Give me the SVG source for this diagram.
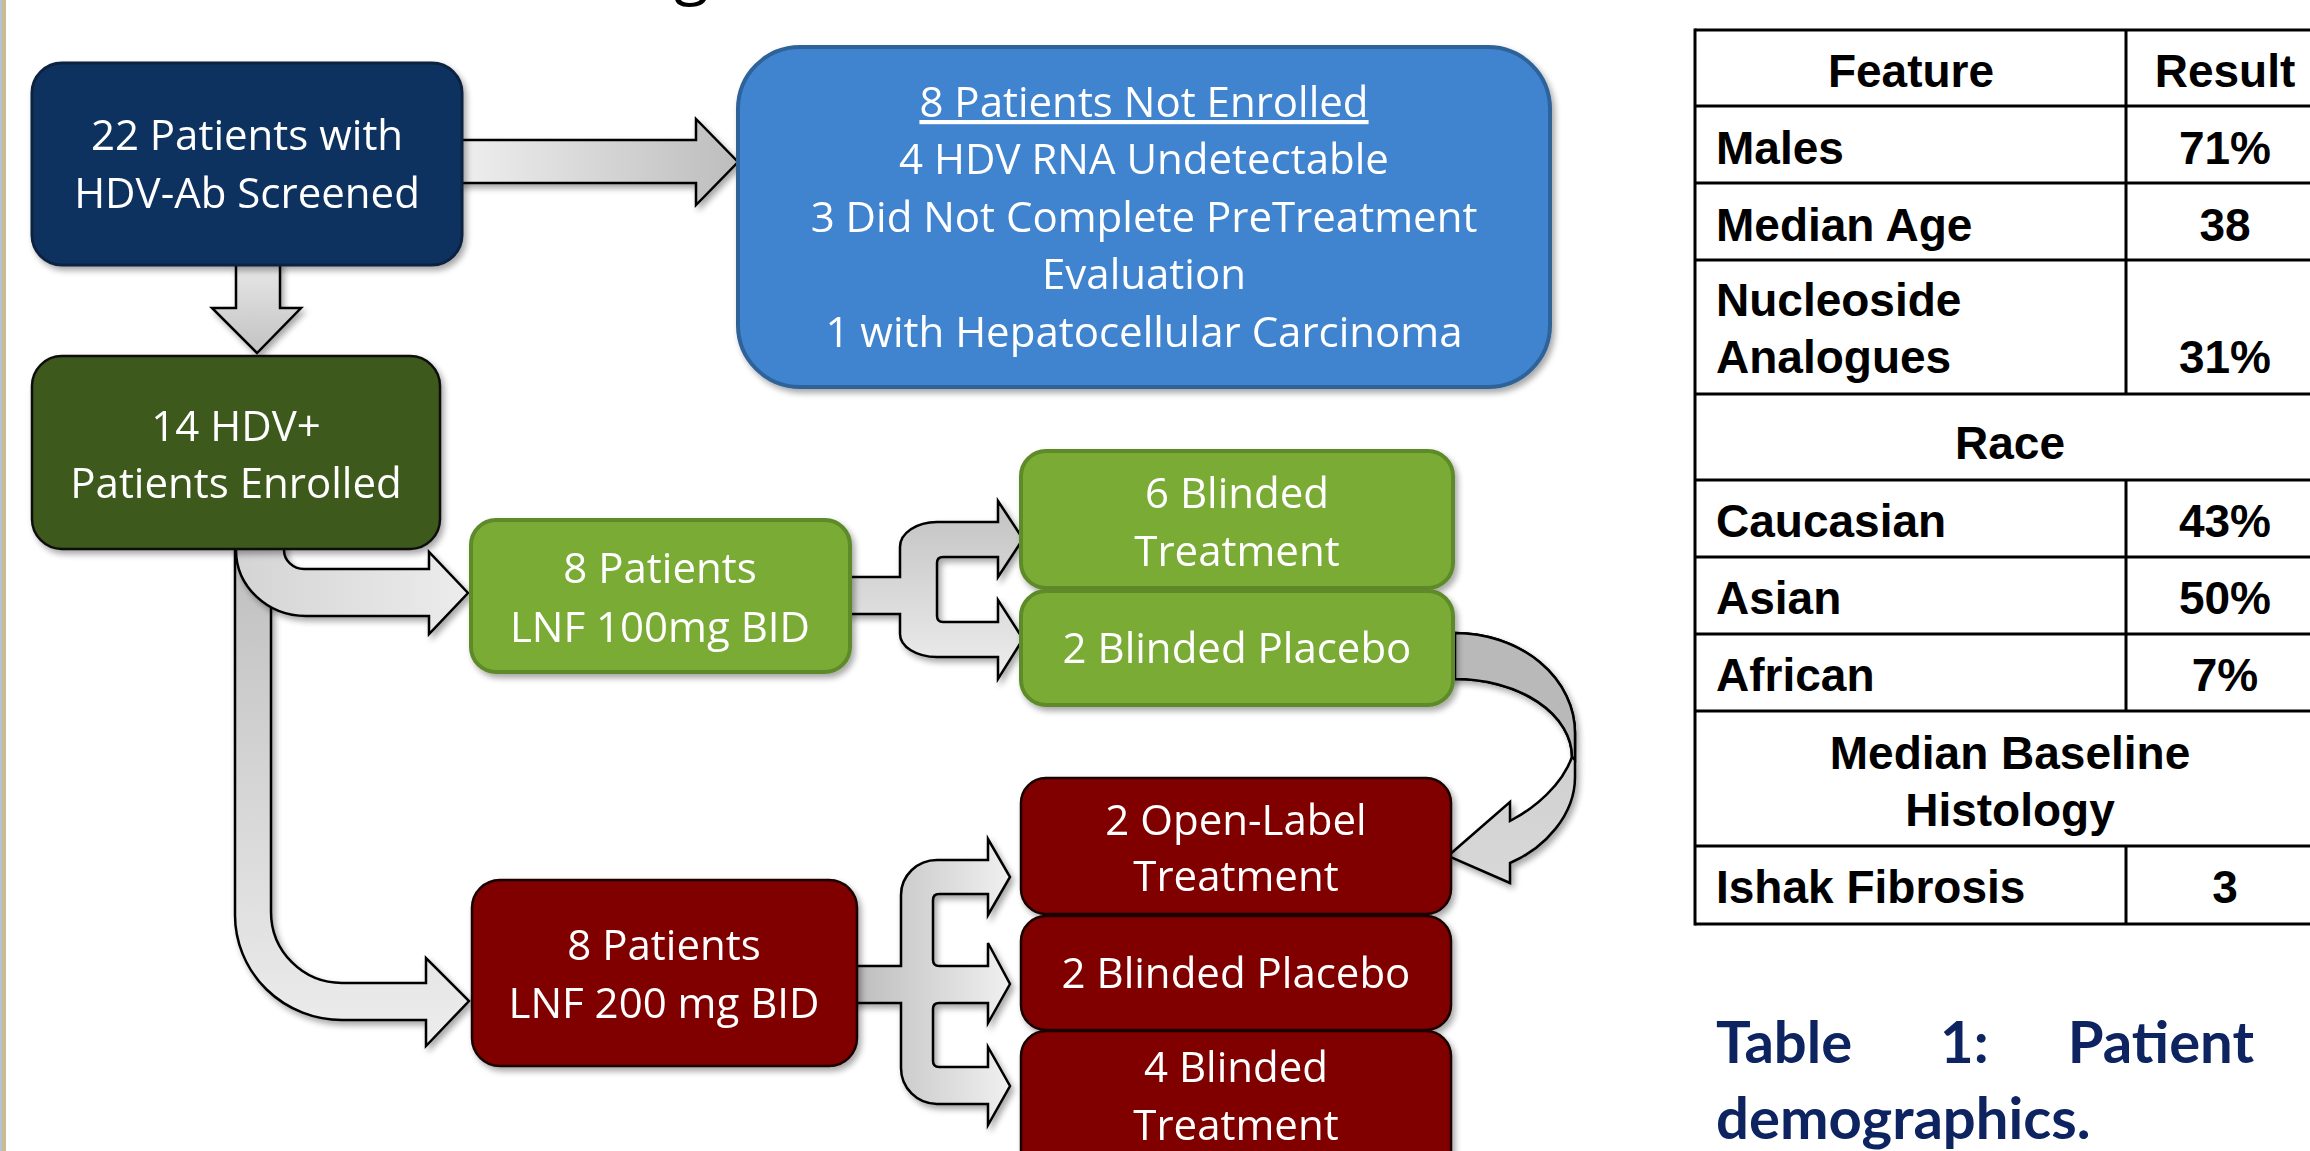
<svg xmlns="http://www.w3.org/2000/svg" width="2310" height="1151" viewBox="0 0 2310 1151">
<defs>
<filter id="sh" x="-10%" y="-10%" width="130%" height="130%">
<feGaussianBlur in="SourceAlpha" stdDeviation="3"/>
<feOffset dx="3" dy="4" result="o"/>
<feComponentTransfer><feFuncA type="linear" slope="0.35"/></feComponentTransfer>
<feMerge><feMergeNode/><feMergeNode in="SourceGraphic"/></feMerge>
</filter>
<linearGradient id="gA" x1="0" y1="0" x2="1" y2="0"><stop offset="0" stop-color="#efefef"/><stop offset="1" stop-color="#bdbdbd"/></linearGradient>
<linearGradient id="gB" x1="0" y1="0" x2="0" y2="1"><stop offset="0" stop-color="#e8e8e8"/><stop offset="1" stop-color="#c2c2c2"/></linearGradient>
<linearGradient id="gC" x1="0" y1="0" x2="1" y2="0"><stop offset="0" stop-color="#d4d4d4"/><stop offset="1" stop-color="#ececec"/></linearGradient>
<linearGradient id="gD" x1="0" y1="0" x2="0" y2="1"><stop offset="0" stop-color="#bfbfbf"/><stop offset="1" stop-color="#ededed"/></linearGradient>
<linearGradient id="gE" x1="0" y1="0" x2="0" y2="1"><stop offset="0" stop-color="#c2c2c2"/><stop offset="1" stop-color="#eeeeee"/></linearGradient>
<linearGradient id="gF" x1="0" y1="0" x2="1" y2="0"><stop offset="0" stop-color="#bcbcbc"/><stop offset="1" stop-color="#f0f0f0"/></linearGradient>
<linearGradient id="gG" x1="0" y1="0" x2="0" y2="1"><stop offset="0" stop-color="#c8c8c8"/><stop offset="1" stop-color="#d8d8d8"/></linearGradient>
<style>
.nt{font-family:"Open Sans","Liberation Sans",sans-serif;font-size:42px;fill:#ffffff;text-anchor:middle}
.tb{font-family:"Liberation Sans",Arial,sans-serif;font-weight:bold;font-size:46px;fill:#000000}
.tc{text-anchor:middle}
.cap{font-family:Lato,"Open Sans",sans-serif;font-weight:bold;font-size:58px;fill:#0d2461}
.arr{stroke:#000000;stroke-width:2.5;stroke-linejoin:miter}
.navy{fill:#10335e;stroke:#0a2340;stroke-width:3}
.blue{fill:#4183cf;stroke:#2f6399;stroke-width:4}
.dgreen{fill:#3d5a1b;stroke:#111111;stroke-width:2.5}
.lgreen{fill:#7aab36;stroke:#5e8a2b;stroke-width:4}
.red{fill:#800000;stroke:#1a0000;stroke-width:2.5}
.tl{stroke:#000000;stroke-width:3;fill:none}
</style>
</defs>
<rect x="0" y="0" width="2310" height="1151" fill="#ffffff"/>
<rect x="0" y="0" width="2" height="1151" fill="#b4c4d6"/>
<rect x="2" y="0" width="4" height="1151" fill="#c8bd92"/>
<text x="674" y="-8" font-family="'Open Sans','Liberation Sans',sans-serif" font-size="64" fill="#000000">g</text>

<g id="connectors">
<path class="arr" fill="url(#gA)" filter="url(#sh)" d="M 458,140 L 696,140 L 696,119 L 738,162 L 696,205 L 696,183 L 458,183 Z"/>
<path class="arr" fill="url(#gB)" filter="url(#sh)" d="M 236,262 L 280,262 L 280,308 L 301,308 L 257,353 L 212,308 L 236,308 Z"/>
<path class="arr" fill="url(#gD)" filter="url(#sh)" d="M 235,545 L 235,915 A 107,105 0 0 0 342,1020 L 426,1020 L 426,1046 L 469,1001 L 426,958 L 426,983 L 342,983 A 71,71 0 0 1 271,912 L 271,545 Z"/>
<path class="arr" fill="url(#gC)" filter="url(#sh)" d="M 236,545 L 236,550 A 70,66 0 0 0 306,616 L 429,616 L 429,634 L 468,593 L 429,552 L 429,569 L 304,569 A 20,19 0 0 1 284,550 L 284,545 Z"/>
<path class="arr" fill="url(#gE)" filter="url(#sh)" d="M 846,577 L 900,577 L 900,547 A 37,25 0 0 1 937,522 L 998,522 L 998,501 L 1023,539 L 998,577 L 998,557 L 943,557 Q 937,557 937,563 L 937,616 Q 937,622 943,622 L 998,622 L 998,600 L 1023,639 L 998,679 L 998,657 L 937,657 A 37,23 0 0 1 900,634 L 900,614 L 846,614 Z"/>
<path class="arr" fill="url(#gF)" filter="url(#sh)" d="M 852,966 L 901,966 L 901,895 A 36,35 0 0 1 937,860 L 988,860 L 988,839 L 1010,877 L 988,915 L 988,894 L 939,894 Q 933,894 933,900 L 933,960 Q 933,966 939,966 L 988,966 L 988,943 L 1010,984 L 988,1023 L 988,1003 L 939,1003 Q 933,1003 933,1009 L 933,1061 Q 933,1067 939,1067 L 988,1067 L 988,1047 L 1010,1086 L 988,1125 L 988,1104 L 937,1104 A 36,36 0 0 1 901,1068 L 901,1003 L 852,1003 Z"/>
<path class="arr" fill="url(#gG)" filter="url(#sh)" d="M 1448,633 L 1455,633 A 120,100 0 0 1 1575,733 L 1575,777 C 1575,815 1545,848 1510,863 L 1510,883 L 1448,856 L 1510,802 L 1510,821 C 1535,808 1562,785 1572,757 A 117,78 0 0 0 1455,679 L 1448,679 Z"/>
<path class="arr" fill="#b9b9b9" d="M 1455,633 A 120,100 0 0 1 1575,733 L 1575,760 L 1572,757 A 117,78 0 0 0 1455,679 Z"/>
</g>

<g id="node-screened" filter="url(#sh)">
<rect class="navy" x="32" y="63" width="430" height="202" rx="30"/>
<text class="nt" x="247" y="150">22 Patients with</text>
<text class="nt" x="247" y="208">HDV-Ab Screened</text>
</g>

<g id="node-not-enrolled" filter="url(#sh)">
<rect class="blue" x="738" y="47" width="812" height="340" rx="62"/>
<text class="nt" x="1144" y="117" text-decoration="underline">8 Patients Not Enrolled</text>
<text class="nt" x="1144" y="174">4 HDV RNA Undetectable</text>
<text class="nt" x="1144" y="232">3 Did Not Complete PreTreatment</text>
<text class="nt" x="1144" y="289">Evaluation</text>
<text class="nt" x="1144" y="347">1 with Hepatocellular Carcinoma</text>
</g>

<g id="node-enrolled" filter="url(#sh)">
<rect class="dgreen" x="32" y="356" width="408" height="193" rx="30"/>
<text class="nt" x="236" y="441">14 HDV+</text>
<text class="nt" x="236" y="498">Patients Enrolled</text>
</g>

<g id="node-lnf100" filter="url(#sh)">
<rect class="lgreen" x="471" y="520" width="379" height="152" rx="25"/>
<text class="nt" x="660" y="583">8 Patients</text>
<text class="nt" x="660" y="642">LNF 100mg BID</text>
</g>

<g id="node-g-treat" filter="url(#sh)">
<rect class="lgreen" x="1021" y="451" width="432" height="137" rx="25"/>
<text class="nt" x="1237" y="508">6 Blinded</text>
<text class="nt" x="1237" y="566">Treatment</text>
</g>

<g id="node-g-placebo" filter="url(#sh)">
<rect class="lgreen" x="1021" y="591" width="432" height="114" rx="25"/>
<text class="nt" x="1237" y="663">2 Blinded Placebo</text>
</g>

<g id="node-lnf200" filter="url(#sh)">
<rect class="red" x="472" y="880" width="385" height="186" rx="28"/>
<text class="nt" x="664" y="960">8 Patients</text>
<text class="nt" x="664" y="1018">LNF 200 mg BID</text>
</g>

<g id="node-r-open" filter="url(#sh)">
<rect class="red" x="1021" y="778" width="430" height="136" rx="25"/>
<text class="nt" x="1236" y="835">2 Open-Label</text>
<text class="nt" x="1236" y="891">Treatment</text>
</g>

<g id="node-r-placebo" filter="url(#sh)">
<rect class="red" x="1021" y="916" width="430" height="114" rx="25"/>
<text class="nt" x="1236" y="988">2 Blinded Placebo</text>
</g>

<g id="node-r-treat" filter="url(#sh)">
<rect class="red" x="1021" y="1031" width="430" height="145" rx="25"/>
<text class="nt" x="1236" y="1082">4 Blinded</text>
<text class="nt" x="1236" y="1140">Treatment</text>
</g>

<g id="table">
<path class="tl" d="M 1695,30 H 2312 M 1695,106 H 2312 M 1695,183 H 2312 M 1695,260 H 2312 M 1695,394 H 2312 M 1695,480 H 2312 M 1695,557 H 2312 M 1695,634 H 2312 M 1695,711 H 2312 M 1695,846 H 2312 M 1695,924 H 2312"/>
<path class="tl" d="M 1695,28.5 V 925.5 M 2126,30 V 394 M 2126,480 V 711 M 2126,846 V 924"/>
<text class="tb tc" x="1911" y="87">Feature</text>
<text class="tb tc" x="2225" y="87">Result</text>
<text class="tb" x="1716" y="164">Males</text>
<text class="tb tc" x="2225" y="164">71%</text>
<text class="tb" x="1716" y="241">Median Age</text>
<text class="tb tc" x="2225" y="241">38</text>
<text class="tb" x="1716" y="316">Nucleoside</text>
<text class="tb" x="1716" y="373">Analogues</text>
<text class="tb tc" x="2225" y="373">31%</text>
<text class="tb tc" x="2010" y="459">Race</text>
<text class="tb" x="1716" y="537">Caucasian</text>
<text class="tb tc" x="2225" y="537">43%</text>
<text class="tb" x="1716" y="614">Asian</text>
<text class="tb tc" x="2225" y="614">50%</text>
<text class="tb" x="1716" y="691">African</text>
<text class="tb tc" x="2225" y="691">7%</text>
<text class="tb tc" x="2010" y="769">Median Baseline</text>
<text class="tb tc" x="2010" y="826">Histology</text>
<text class="tb" x="1716" y="903">Ishak Fibrosis</text>
<text class="tb tc" x="2225" y="903">3</text>
</g>

<g id="caption">
<text class="cap" x="1716" y="1063">Table</text>
<text class="cap" x="1940" y="1063">1:</text>
<text class="cap" x="2254" y="1063" text-anchor="end">Patient</text>
<text class="cap" x="1716" y="1139">demographics.</text>
</g>
</svg>
